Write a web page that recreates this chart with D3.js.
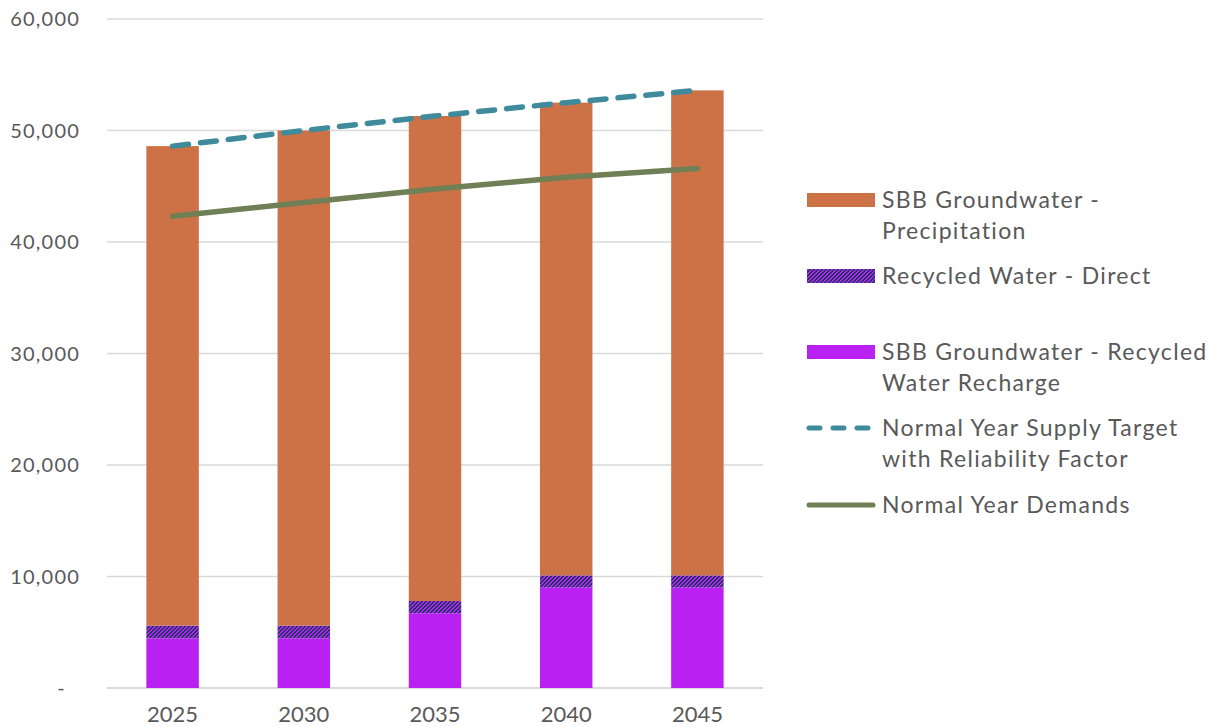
<!DOCTYPE html>
<html lang="en">
  <head>
    <meta charset="UTF-8" />
    <title>Water supply</title>
    <style>
      body { margin: 0; background: #fff; }
      text { font-family: "Lato", sans-serif; fill: #595959; }
    </style>
  </head>
  <body>
    <svg id="svg" width="1214" height="727"></svg>

    <script src="https://d3js.org/d3.v7.min.js"></script>
    <script>
      const years = ["2025", "2030", "2035", "2040", "2045"];
      const recharge = [4450, 4450, 6700, 9000, 9000];
      const direct = [1150, 1150, 1100, 1100, 1100];
      const precipitation = [43000, 44400, 43500, 42400, 43500];
      const supplyTarget = [48600, 50000, 51300, 52500, 53600];
      const demands = [42300, 43550, 44750, 45800, 46600];
      const yTicks = [0, 10000, 20000, 30000, 40000, 50000, 60000];

      const colors = {
        precip: "#cc7246",
        recharge: "#b921f3",
        hatch: "#173a5c",
        target: "#3f8b9c",
        demand: "#6f7f56",
      };

      const svg = d3.select("#svg");

      const x = d3.scaleBand().domain(years).range([107, 763]).paddingInner(0.6).paddingOuter(0.3);
      const y = d3.scaleLinear().domain([0, 60000]).range([688, 19]);

      // hatch pattern for the direct recycled water (pixel stair stripes, "/")
      const pat = svg.append("defs").append("pattern")
        .attr("id", "hatch")
        .attr("patternUnits", "userSpaceOnUse")
        .attr("width", 4)
        .attr("height", 4);
      pat.append("rect").attr("width", 4).attr("height", 4).attr("fill", colors.recharge);
      const steps = [[2, 0], [3, 0], [1, 1], [2, 1], [0, 2], [1, 2], [3, 3], [0, 3]];
      pat.selectAll("rect.px")
        .data(steps)
        .join("rect")
        .attr("class", "px")
        .attr("x", (d) => d[0])
        .attr("y", (d) => d[1])
        .attr("width", 1)
        .attr("height", 1)
        .attr("fill", colors.hatch)
        .attr("shape-rendering", "crispEdges");

      // gridlines
      svg.append("g")
        .selectAll("line")
        .data(yTicks)
        .join("line")
        .attr("x1", 107)
        .attr("x2", 763)
        .attr("y1", (d) => y(d))
        .attr("y2", (d) => y(d))
        .attr("stroke", "#d9d9d9")
        .attr("stroke-width", (d) => (d === 0 ? 2 : 1.5));

      // y labels
      svg.append("g")
        .selectAll("text")
        .data(yTicks)
        .join("text")
        .attr("x", (d) => (d === 0 ? 66 : 80))
        .attr("y", (d) => y(d))
        .attr("dy", "0.36em")
        .attr("text-anchor", "end")
        .attr("font-size", 20)
        .attr("letter-spacing", 1.2)
        .text((d) => (d === 0 ? "-" : d3.format(",")(d)));

      // x labels
      svg.append("g")
        .selectAll("text")
        .data(years)
        .join("text")
        .attr("x", (d) => x(d) + x.bandwidth() / 2)
        .attr("y", 722)
        .attr("text-anchor", "middle")
        .attr("font-size", 22)
        .text((d) => d);

      // stacked bars
      const rows = years.map((yr, i) => ({ year: yr, recharge: recharge[i], direct: direct[i], precip: precipitation[i] }));
      const stack = d3.stack().keys(["recharge", "direct", "precip"])(rows);
      const fills = { recharge: colors.recharge, direct: "url(#hatch)", precip: colors.precip };

      svg.append("g")
        .selectAll("g")
        .data(stack)
        .join("g")
        .attr("fill", (s) => fills[s.key])
        .selectAll("rect")
        .data((s) => s)
        .join("rect")
        .attr("x", (d) => x(d.data.year))
        .attr("width", x.bandwidth())
        .attr("y", (d) => y(d[1]))
        .attr("height", (d) => y(d[0]) - y(d[1]));

      const line = d3.line()
        .x((d, i) => x(years[i]) + x.bandwidth() / 2)
        .y((d) => y(d));

      svg.append("path")
        .attr("d", line(demands))
        .attr("fill", "none")
        .attr("stroke", colors.demand)
        .attr("stroke-width", 5.5)
        .attr("stroke-linecap", "round");

      svg.append("path")
        .attr("d", line(supplyTarget))
        .attr("fill", "none")
        .attr("stroke", colors.target)
        .attr("stroke-width", 5.5)
        .attr("stroke-linecap", "round")
        .attr("stroke-dasharray", "16 12");

      // legend
      const legend = [
        { type: "rect", fill: colors.precip, lines: ["SBB Groundwater -", "Precipitation"], cy: 200 },
        { type: "rect", fill: "url(#hatch)", lines: ["Recycled Water - Direct"], cy: 276 },
        { type: "rect", fill: colors.recharge, lines: ["SBB Groundwater - Recycled", "Water Recharge"], cy: 352 },
        { type: "dash", stroke: colors.target, lines: ["Normal Year Supply Target", "with Reliability Factor"], cy: 428 },
        { type: "line", stroke: colors.demand, lines: ["Normal Year Demands"], cy: 505 },
      ];

      const lg = svg.append("g");
      legend.forEach((item) => {
        if (item.type === "rect") {
          lg.append("rect")
            .attr("x", 807)
            .attr("y", item.cy - 7)
            .attr("width", 68)
            .attr("height", 14)
            .attr("fill", item.fill);
        } else {
          lg.append("line")
            .attr("x1", 809)
            .attr("x2", item.type === "dash" ? 868 : 873)
            .attr("y1", item.cy)
            .attr("y2", item.cy)
            .attr("stroke", item.stroke)
            .attr("stroke-width", 5)
            .attr("stroke-linecap", "round")
            .attr("stroke-dasharray", item.type === "dash" ? "11 13" : null);
        }
        const t = lg.append("text")
          .attr("x", 882)
          .attr("y", item.cy)
          .attr("font-size", 23)
          .attr("letter-spacing", 1.3);
        item.lines.forEach((l, j) => {
          t.append("tspan")
            .attr("x", 882)
            .attr("dy", j === 0 ? "0.36em" : 31)
            .text(l);
        });
      });
    </script>
  </body>
</html>
